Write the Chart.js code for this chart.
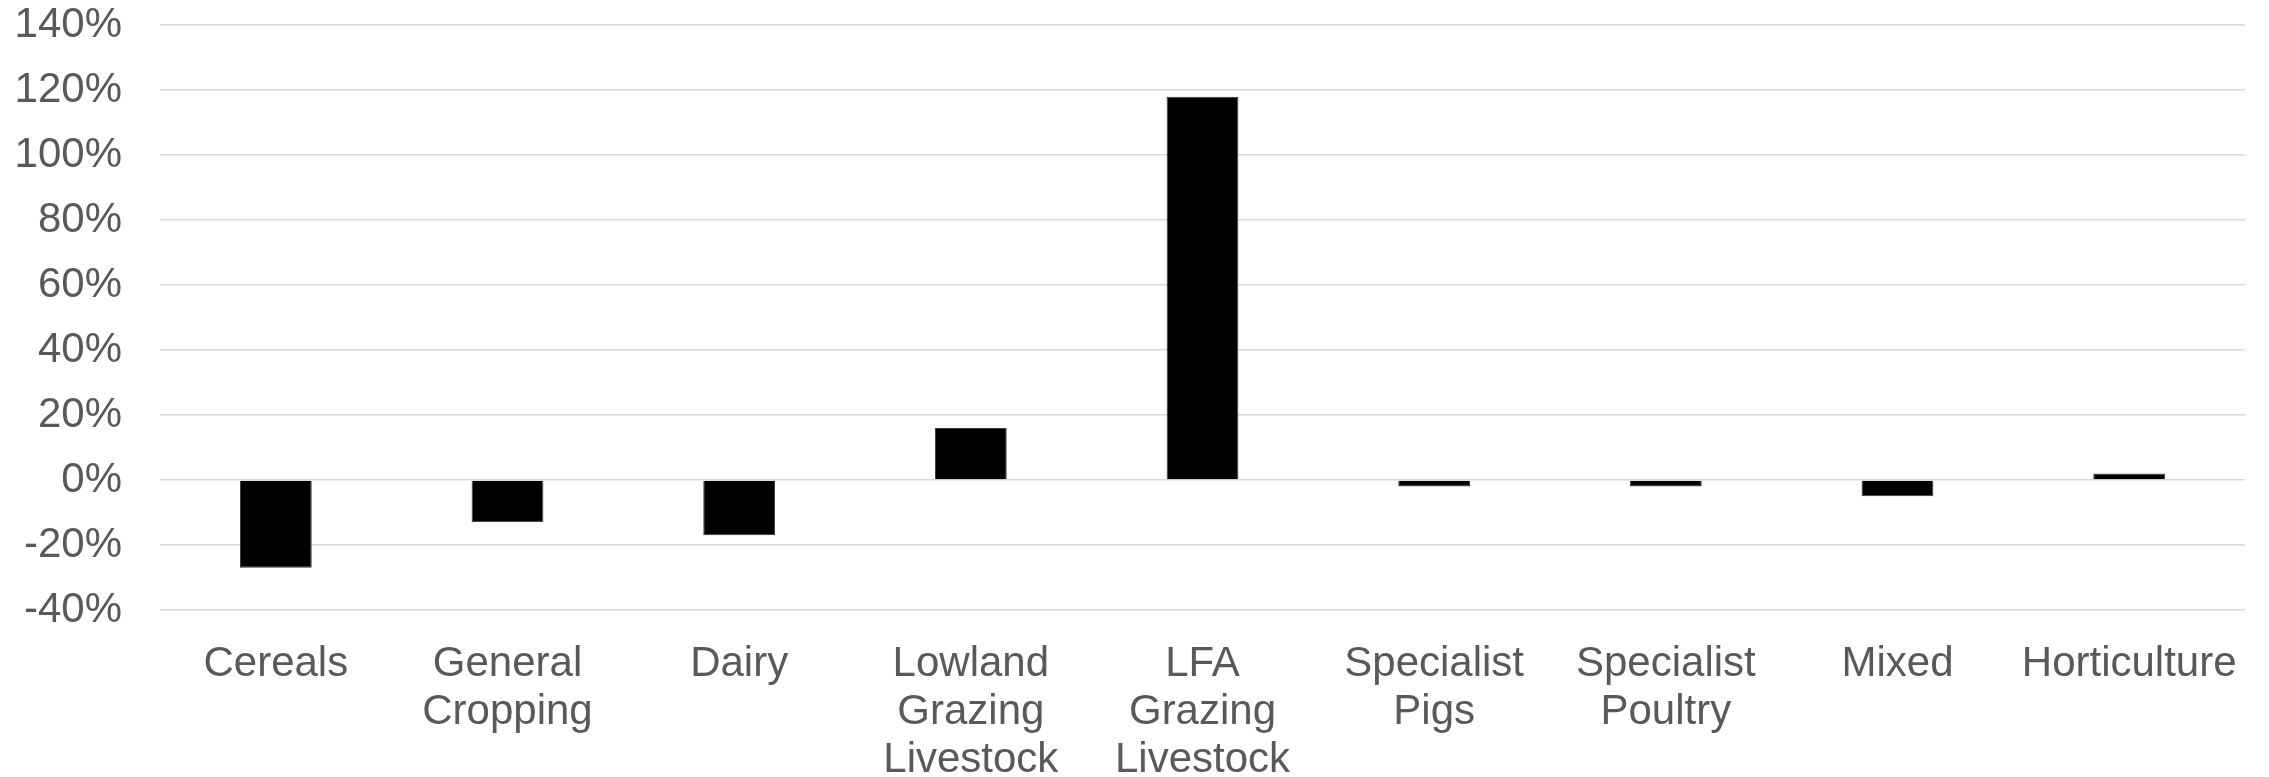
<!DOCTYPE html>
<html>
<head>
<meta charset="utf-8">
<script src="https://cdn.jsdelivr.net/npm/chart.js@4/dist/chart.umd.min.js"></script>
<style>
  html, body { margin: 0; padding: 0; background: #ffffff; }
  #wrap { width: 2269px; height: 777px; position: relative; }
</style>
</head>
<body>
<div id="wrap"><canvas id="chart"></canvas></div>
<script>
// Farm types on the category axis (multi-line labels)
const categories = [
  ["Cereals"],
  ["General", "Cropping"],
  ["Dairy"],
  ["Lowland", "Grazing", "Livestock"],
  ["LFA", "Grazing", "Livestock"],
  ["Specialist", "Pigs"],
  ["Specialist", "Poultry"],
  ["Mixed"],
  ["Horticulture"]
];

// Percentage change per farm type
const changePct = [-27, -13, -17, 16, 118, -2, -2, -5, 2];

// Value axis range and step (percent)
const yMin = -40;
const yMax = 140;
const yStep = 20;

const textColor = "#595959";
const gridColor = "#d9d9d9";
const fontFamily = "'Liberation Sans', Arial, sans-serif";

new Chart(document.getElementById("chart"), {
  type: "bar",
  data: {
    labels: categories,
    datasets: [{
      data: changePct,
      backgroundColor: "#000000",
      borderColor: "#3a3a3a",
      borderWidth: 1,
      categoryPercentage: 1.0,
      barPercentage: 0.31
    }]
  },
  options: {
    responsive: true,
    maintainAspectRatio: false,
    animation: false,
    layout: { padding: { top: 25, right: 24, bottom: 0, left: 0 } },
    plugins: {
      legend: { display: false },
      tooltip: { enabled: false }
    },
    scales: {
      x: {
        grid: { display: false, drawTicks: false },
        border: { display: false },
        ticks: {
          color: textColor,
          font: { family: fontFamily, size: 42, lineHeight: 1.15 },
          padding: 30,
          maxRotation: 0,
          minRotation: 0,
          autoSkip: false
        },
        afterFit(scale) { scale.height = 167; }
      },
      y: {
        min: yMin,
        max: yMax,
        grid: {
          color: gridColor,
          lineWidth: 1.5,
          drawTicks: true,
          tickLength: 38,
          tickColor: "rgba(0,0,0,0)"
        },
        border: { display: false },
        ticks: {
          stepSize: yStep,
          color: textColor,
          font: { family: fontFamily, size: 42, lineHeight: 1.2 },
          padding: 0,
          callback: (v) => v + "%"
        },
        afterFit(scale) { scale.width = 160; }
      }
    }
  }
});
</script>
</body>
</html>
